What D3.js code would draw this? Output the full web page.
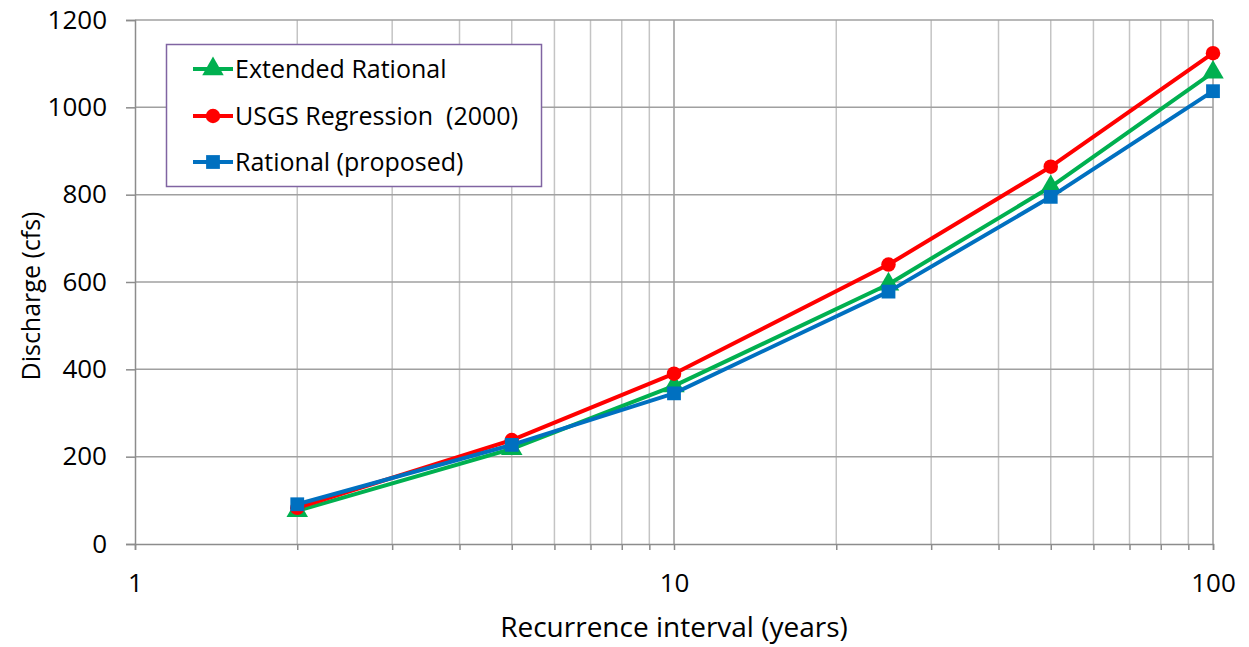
<!DOCTYPE html>
<html>
<head>
<meta charset="utf-8">
<script src="https://cdn.jsdelivr.net/npm/d3@7"></script>
<style>
  html, body { margin: 0; padding: 0; background: #fff; }
  svg { display: block; }
  text { font-family: "Open Sans", sans-serif; fill: #000; }
</style>
</head>
<body>
<svg id="chart" width="1249" height="647"></svg>
<script>
// Recurrence intervals (years)
const intervals = [2, 5, 10, 25, 50, 100];

// Peak discharge (cfs) per method
const extendedRational = [76, 218, 362, 595, 818, 1080];
const usgsRegression   = [83, 238, 390, 640, 864, 1124];
const rationalProposed = [91, 227, 345, 578, 795, 1037];

const seriesNames = ["Extended Rational", "USGS Regression  (2000)", "Rational (proposed)"];
const seriesColors = ["#00B050", "#FF0000", "#0070C0"];
const seriesShapes = [d3.symbolTriangle, d3.symbolCircle, d3.symbolSquare];
const seriesValues = [extendedRational, usgsRegression, rationalProposed];

const yTicks = [0, 200, 400, 600, 800, 1000, 1200];
const xTicks = [1, 10, 100];

const svg = d3.select("#chart");
const plotLeft = 135, plotRight = 1213, plotTop = 20, plotBottom = 544;
const fontFamily = "'Open Sans', sans-serif";

const x = d3.scaleLog().domain([1, 100]).range([plotLeft, plotRight]);
const y = d3.scaleLinear().domain([0, 1200]).range([plotBottom, plotTop]);

// Vertical gridlines: minor then major
const minorX = [];
for (let d = 1; d <= 10; d *= 10) for (let k = 2; k <= 9; k++) minorX.push(k * d);
svg.append("g").selectAll("line").data(minorX).join("line")
  .attr("x1", d => x(d)).attr("x2", d => x(d))
  .attr("y1", plotTop).attr("y2", plotBottom)
  .attr("stroke", "#c4c4c4").attr("stroke-width", 1.5);
svg.append("g").selectAll("line").data([10, 100]).join("line")
  .attr("x1", d => x(d)).attr("x2", d => x(d))
  .attr("y1", plotTop).attr("y2", plotBottom)
  .attr("stroke", "#9a9a9a").attr("stroke-width", 1.5);

// Horizontal gridlines
svg.append("g").selectAll("line").data(yTicks.slice(1)).join("line")
  .attr("x1", plotLeft).attr("x2", plotRight)
  .attr("y1", d => y(d)).attr("y2", d => y(d))
  .attr("stroke", "#a0a0a0").attr("stroke-width", 1.5);

// Y axis
const yAxis = svg.append("g").attr("transform", `translate(${plotLeft},0)`)
  .call(d3.axisLeft(y).tickValues(yTicks).tickSize(9).tickPadding(19).tickFormat(d3.format("d")));
yAxis.select(".domain").attr("stroke", "#8c8c8c").attr("stroke-width", 1.5);
yAxis.selectAll(".tick line").attr("stroke", "#8c8c8c").attr("stroke-width", 1.5);
yAxis.selectAll(".tick text").style("font-size", "26px").style("font-family", fontFamily).attr("fill", "#000");

// X axis with minor ticks below
const xAxis = svg.append("g").attr("transform", `translate(0,${plotBottom})`)
  .call(d3.axisBottom(x).tickValues(xTicks.concat(minorX)).tickSize(6)
    .tickFormat(d => xTicks.includes(d) ? d3.format("d")(d) : "").tickPadding(24));
xAxis.select(".domain").attr("stroke", "#8c8c8c").attr("stroke-width", 1.5);
xAxis.selectAll(".tick line").attr("stroke", "#8c8c8c").attr("stroke-width", 1.5);
xAxis.selectAll(".tick text").style("font-size", "26px").style("font-family", fontFamily).attr("fill", "#000");

// Axis titles
svg.append("text").attr("x", 674).attr("y", 637)
  .attr("text-anchor", "middle").style("font-size", "28px").text("Recurrence interval (years)");
svg.append("text").attr("transform", "translate(40,296) rotate(-90)")
  .attr("text-anchor", "middle").style("font-size", "25px").text("Discharge (cfs)");

// Series lines and markers
const line = d3.line().x((d, i) => x(intervals[i])).y(d => y(d));
const symbolSizes = [200, 165, 190];
seriesValues.forEach((vals, s) => {
  const g = svg.append("g");
  g.append("path").datum(vals).attr("d", line)
    .attr("fill", "none").attr("stroke", seriesColors[s]).attr("stroke-width", 4)
    .attr("stroke-linejoin", "round");
  g.selectAll("path.m").data(vals).join("path").attr("class", "m")
    .attr("transform", (d, i) => `translate(${x(intervals[i])},${y(d)})`)
    .attr("d", d3.symbol().type(seriesShapes[s]).size(symbolSizes[s]))
    .attr("fill", seriesColors[s]);
});

// Legend
const legend = svg.append("g");
legend.append("rect").attr("x", 166.5).attr("y", 44.5).attr("width", 375).attr("height", 142)
  .attr("fill", "#fff").attr("stroke", "#8064A2").attr("stroke-width", 1.5);
const rowY = [69, 116, 162];
seriesNames.forEach((name, s) => {
  legend.append("line").attr("x1", 193).attr("x2", 233).attr("y1", rowY[s]).attr("y2", rowY[s])
    .attr("stroke", seriesColors[s]).attr("stroke-width", 4);
  legend.append("path").attr("transform", `translate(213,${rowY[s]})`)
    .attr("d", d3.symbol().type(seriesShapes[s]).size(symbolSizes[s]))
    .attr("fill", seriesColors[s]);
  legend.append("text").attr("x", 235).attr("y", rowY[s] + 9)
    .style("font-size", "25px").style("white-space", "pre").text(name);
});
</script>
</body>
</html>
